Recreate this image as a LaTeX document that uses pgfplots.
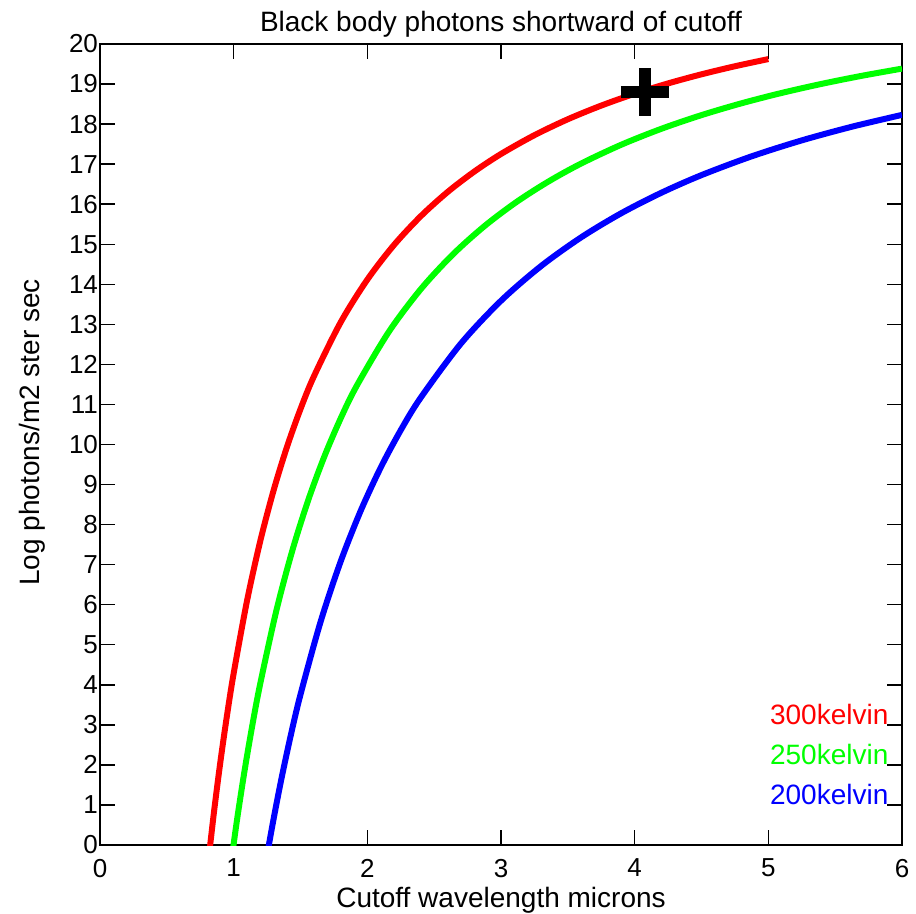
\documentclass[border=0pt]{standalone}
\usepackage{fontspec}
\setmainfont{Liberation Sans}
\usepackage{pgfplots}
\pgfplotsset{compat=1.18}

\begin{document}
\begin{tikzpicture}
\begin{axis}[
    scale only axis,
    width=401pt, height=400.5pt,
    xmin=0, xmax=6, ymin=0, ymax=20,
    xtick={0,1,...,6}, ytick={0,1,...,20},
    tick align=inside,
    major tick length=7.5pt,
    axis line style={line width=0.9pt},
    tick style={black, line width=0.7pt},
    /pgf/number format/assume math mode=true,
    ticklabel style={font=\fontsize{13}{15}\selectfont},
    xticklabel style={yshift=-3.5pt},
    yticklabel style={xshift=2.5pt},
    xlabel={Cutoff wavelength microns},
    xlabel style={at={(axis description cs:0.5,-0.069)}, anchor=center, font=\fontsize{14}{16}\selectfont},
    ylabel={Log photons/m2 ster sec},
    ylabel style={at={(axis description cs:-0.084,0.515)}, anchor=center, font=\fontsize{14}{16}\selectfont},
]

% 300 K
\addplot[red, line width=3pt, smooth] coordinates {
    (0.80,-0.731) (0.85,0.748) (0.90,2.062) (0.95,3.234) (1.00,4.286)
    (1.10,6.099) (1.20,7.603) (1.30,8.870) (1.40,9.952) (1.50,10.886)
    (1.60,11.700) (1.80,13.048) (2.00,14.117) (2.20,14.984) (2.40,15.701)
    (2.60,16.303) (2.80,16.814) (3.00,17.254) (3.25,17.723) (3.50,18.121)
    (3.75,18.462) (4.00,18.758) (4.25,19.016) (4.50,19.243) (4.75,19.444)
    (5.00,19.623)
};

% 250 K
\addplot[green, line width=3pt, smooth] coordinates {
    (0.96,-0.969) (1.02,0.510) (1.08,1.824) (1.14,2.996) (1.20,4.048)
    (1.32,5.861) (1.44,7.365) (1.56,8.632) (1.68,9.714) (1.80,10.648)
    (1.92,11.462) (2.16,12.810) (2.40,13.879) (2.64,14.746) (2.88,15.463)
    (3.12,16.065) (3.36,16.576) (3.60,17.016) (3.90,17.485) (4.20,17.883)
    (4.50,18.224) (4.80,18.520) (5.10,18.778) (5.40,19.005) (5.70,19.206)
    (6.00,19.385)
};

% 200 K
\addplot[blue, line width=3pt, smooth] coordinates {
    (1.200,-1.259) (1.275,0.220) (1.350,1.534) (1.425,2.706) (1.500,3.758)
    (1.650,5.571) (1.800,7.075) (1.950,8.342) (2.100,9.424) (2.250,10.358)
    (2.400,11.172) (2.700,12.520) (3.000,13.589) (3.300,14.456) (3.600,15.173)
    (3.900,15.775) (4.200,16.286) (4.500,16.726) (4.875,17.195) (5.250,17.593)
    (5.625,17.934) (6.000,18.230)
};

% marker
\addplot[black, only marks, mark=+, mark size=12pt, line width=6pt] coordinates {(4.077,18.79)};

\node[anchor=west, inner sep=0pt, text=red, font=\fontsize{14}{16}\selectfont] at (axis cs:5.01,3.27) {300kelvin};
\node[anchor=west, inner sep=0pt, text=green, font=\fontsize{14}{16}\selectfont] at (axis cs:5.01,2.26) {250kelvin};
\node[anchor=west, inner sep=0pt, text=blue, font=\fontsize{14}{16}\selectfont] at (axis cs:5.01,1.27) {200kelvin};
\end{axis}
% title
\node[anchor=base, inner sep=0pt, font=\fontsize{14}{16}\selectfont]
    at ([yshift=6pt]current axis.north) {Black body photons shortward of cutoff};
\pgfresetboundingbox
\path ([shift={(-50pt,-34pt)}]current axis.south west) rectangle ([shift={(7pt,22pt)}]current axis.north east);
\end{tikzpicture}
\end{document}
